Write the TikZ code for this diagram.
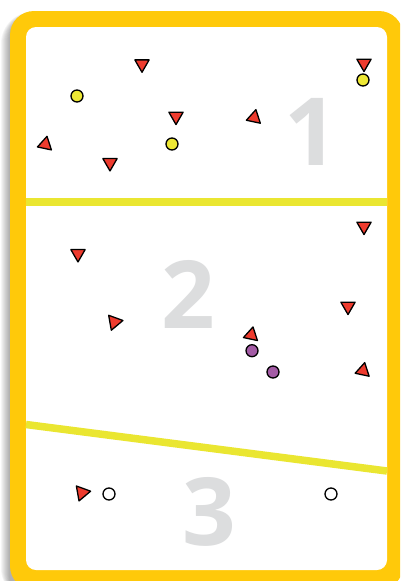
\documentclass[tikz,border=0pt]{standalone}
\usepackage{fontspec}
\newfontfamily\numfont{Open Sans}
\usetikzlibrary{shapes.geometric}
\definecolor{cardyellow}{HTML}{FFC90A}
\definecolor{divider}{HTML}{EAE631}
\definecolor{tred}{HTML}{EE3B2E}
\definecolor{cyellow}{HTML}{EEE835}
\definecolor{cpurple}{HTML}{A35BA5}
\definecolor{numgray}{HTML}{DCDDDE}
\tikzset{
  tri/.style={regular polygon, regular polygon sides=3, draw=black, fill=tred,
    line width=1.3pt, inner sep=0pt, outer sep=0pt, minimum size=16.5pt, line join=round},
  tridown/.style={tri, rotate=180},
  tritilt/.style={tri, rotate=-12},
  triright/.style={tri, rotate=-80, minimum size=17.5pt},
  dot/.style={circle, draw=black, line width=1.3pt, inner sep=0pt, minimum size=12pt},
  ydot/.style={dot, fill=cyellow},
  pdot/.style={dot, fill=cpurple},
  wdot/.style={dot, fill=white},
  num/.style={text=numgray, inner sep=0pt, font=\numfont\bfseries\fontsize{94}{94}\selectfont},
  divline/.style={draw=divider, line width=7.5pt}
}
\begin{document}
\begin{tikzpicture}[x=1pt,y=-1pt]
\useasboundingbox (0,0) rectangle (400,581);
\clip (0,0) rectangle (400,581);
% shadow (left side, soft)
\foreach \i/\r in {0/24,1/25,2/26,3/27,4/28,5/29,6/30,7/31,8/32}
  \fill[black, opacity=0.04, rounded corners=\r pt] (9-\i,15-0.4*\i) rectangle (395,600);
% card
\fill[cardyellow, rounded corners=24pt] (10,11) rectangle (403,590);
\fill[white, rounded corners=10pt] (26,27) rectangle (387,570);
% dividers
\coordinate (l1a) at (26,202);
\coordinate (l1b) at (387,202);
\coordinate (l2a) at (26,424.5);
\coordinate (l2b) at (387,471);
\draw[divline] (l1a) -- (l1b);
\draw[divline] (l2a) -- (l2b);
% numbers
\node[num] (n1) at (311,131.5) {1};
\node[num] (n2) at (188,294) {2};
\node[num] (n3) at (209,511.5) {3};
% zone 1
\node[tridown] (a1) at (142,64) {};
\node[ydot] (a2) at (77,96) {};
\node[tridown] (a3) at (176,116.3) {};
\node[tritilt] (a4) at (45.3,144.4) {};
\node[ydot] (a5) at (172,144) {};
\node[tridown] (a6) at (110,162.7) {};
\node[tritilt] (a7) at (254.2,117.7) {};
\node[tridown] (a8) at (364,63.3) {};
\node[ydot] (a9) at (363,80) {};
% zone 2
\node[tridown] (b1) at (78,253.7) {};
\node[triright] (b2) at (114.3,322) {};
\node[tridown] (b3) at (364,226.3) {};
\node[tridown] (b4) at (348,306.3) {};
\node[tritilt] (b5) at (251.3,335) {};
\node[pdot] (b6) at (252,350.7) {};
\node[pdot] (b7) at (273,372) {};
\node[tritilt] (b8) at (363,370.7) {};
% zone 3
\node[triright] (c1) at (82,492.7) {};
\node[wdot] (c2) at (109,494) {};
\node[wdot] (c3) at (331,494) {};
\end{tikzpicture}
\end{document}
